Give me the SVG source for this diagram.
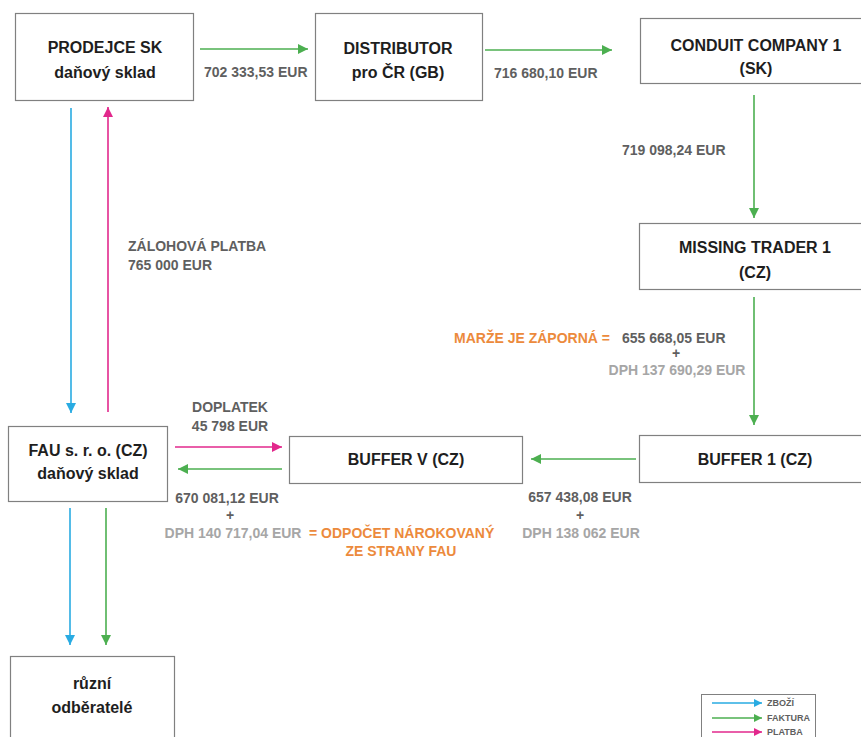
<svg xmlns="http://www.w3.org/2000/svg" width="861" height="737" viewBox="0 0 861 737">
<style>
.box{fill:#fff;stroke:#808080;stroke-width:1.2}
.t{font-family:"Liberation Sans",Arial,sans-serif;font-weight:bold;font-size:16px;fill:#1e1e1e;text-anchor:middle}
.l{font-family:"Liberation Sans",Arial,sans-serif;font-weight:bold;font-size:14px;fill:#5f5f5f}
.lg{font-family:"Liberation Sans",Arial,sans-serif;font-weight:bold;font-size:14px;fill:#a6a6a6}
.o{font-family:"Liberation Sans",Arial,sans-serif;font-weight:bold;font-size:14px;fill:#ec8a3c}
.c{text-anchor:middle}
.g{stroke:#4caf50;stroke-width:1.6;fill:none;marker-end:url(#mg)}
.b{stroke:#29abe2;stroke-width:1.6;fill:none;marker-end:url(#mb)}
.m{stroke:#e2288c;stroke-width:1.6;fill:none;marker-end:url(#mm)}
.leg{font-family:"Liberation Sans",Arial,sans-serif;font-weight:bold;font-size:9px;fill:#5f5f5f}
</style>
<defs>
<marker id="mg" viewBox="0 0 10 10" refX="10" refY="5" markerWidth="6.5" markerHeight="6.5" orient="auto" markerUnits="strokeWidth"><path d="M0,0 L10,5 L0,10 z" fill="#4caf50"/></marker>
<marker id="mb" viewBox="0 0 10 10" refX="10" refY="5" markerWidth="6.5" markerHeight="6.5" orient="auto" markerUnits="strokeWidth"><path d="M0,0 L10,5 L0,10 z" fill="#29abe2"/></marker>
<marker id="mm" viewBox="0 0 10 10" refX="10" refY="5" markerWidth="6.5" markerHeight="6.5" orient="auto" markerUnits="strokeWidth"><path d="M0,0 L10,5 L0,10 z" fill="#e2288c"/></marker>
</defs>
<rect width="861" height="737" fill="#fff"/>

<g id="prodejce">
<rect class="box" x="15.5" y="13.5" width="178" height="87"/>
<text class="t" x="105" y="53">PRODEJCE SK</text>
<text class="t" x="105" y="78">daňový sklad</text>
</g>
<g id="distributor">
<rect class="box" x="315.5" y="13.5" width="167" height="87"/>
<text class="t" x="398" y="54">DISTRIBUTOR</text>
<text class="t" x="398" y="78">pro ČR (GB)</text>
</g>
<g id="conduit">
<rect class="box" x="640.5" y="18.5" width="230" height="65"/>
<text class="t" x="756" y="51">CONDUIT COMPANY 1</text>
<text class="t" x="756" y="74">(SK)</text>
</g>
<g id="missing">
<rect class="box" x="639.5" y="223.5" width="230" height="66"/>
<text class="t" x="755" y="253">MISSING TRADER 1</text>
<text class="t" x="755" y="278">(CZ)</text>
</g>
<g id="buffer1">
<rect class="box" x="639.5" y="435.5" width="230" height="47"/>
<text class="t" x="755" y="465">BUFFER 1 (CZ)</text>
</g>
<g id="bufferv">
<rect class="box" x="289.5" y="436.5" width="233" height="47"/>
<text class="t" x="406" y="465">BUFFER V (CZ)</text>
</g>
<g id="fau">
<rect class="box" x="8.5" y="426.5" width="159" height="75"/>
<text class="t" x="88" y="456">FAU s. r. o. (CZ)</text>
<text class="t" x="88" y="479">daňový sklad</text>
</g>
<g id="odberatele">
<rect class="box" x="10.5" y="656.5" width="164" height="100"/>
<text class="t" x="92" y="689">různí</text>
<text class="t" x="92" y="713">odběratelé</text>
</g>

<g id="connectors">
<line class="g" x1="200" y1="49" x2="308" y2="49"/>
<line class="g" x1="485" y1="50" x2="612" y2="50"/>
<line class="g" x1="754" y1="95" x2="754" y2="218"/>
<line class="g" x1="754" y1="297" x2="754" y2="425"/>
<line class="g" x1="636" y1="459" x2="531" y2="459"/>
<line class="m" x1="175" y1="447" x2="282" y2="447"/>
<line class="g" x1="282" y1="469" x2="178" y2="469"/>
<line class="b" x1="71" y1="108" x2="71" y2="413"/>
<line class="m" x1="108" y1="412" x2="108" y2="107"/>
<line class="b" x1="70" y1="508" x2="70" y2="645"/>
<line class="g" x1="106" y1="508" x2="106" y2="645"/>
</g>

<g id="labels">
<text class="l" x="204" y="77">702 333,53 EUR</text>
<text class="l" x="494" y="78">716 680,10 EUR</text>
<text class="l" x="622" y="155">719 098,24 EUR</text>
<text class="l" x="128" y="251">ZÁLOHOVÁ PLATBA</text>
<text class="l" x="128" y="270">765 000 EUR</text>
<text class="o" x="454" y="343">MARŽE JE ZÁPORNÁ =</text>
<text class="l" x="622" y="343">655 668,05 EUR</text>
<text class="l c" x="676" y="358">+</text>
<text class="lg c" x="677" y="375">DPH 137 690,29 EUR</text>
<text class="l c" x="230" y="412">DOPLATEK</text>
<text class="l c" x="230" y="431">45 798 EUR</text>
<text class="l c" x="227" y="503">670 081,12 EUR</text>
<text class="l c" x="230" y="520">+</text>
<text class="lg c" x="233" y="538">DPH 140 717,04 EUR</text>
<text class="o" x="309" y="538">= ODPOČET NÁROKOVANÝ</text>
<text class="o c" x="401" y="556">ZE STRANY FAU</text>
<text class="l c" x="580" y="502">657 438,08 EUR</text>
<text class="l c" x="580" y="520">+</text>
<text class="lg c" x="581" y="538">DPH 138 062 EUR</text>
</g>

<g id="legend">
<rect x="701.5" y="694.5" width="114" height="60" fill="#fff" stroke="#808080" stroke-width="1"/>
<line class="b" x1="712" y1="703" x2="762" y2="703" style="stroke-width:1.3"/>
<line class="g" x1="712" y1="718" x2="762" y2="718" style="stroke-width:1.3"/>
<line class="m" x1="712" y1="732" x2="762" y2="732" style="stroke-width:1.3"/>
<text class="leg" x="767" y="706">ZBOŽÍ</text>
<text class="leg" x="767" y="721">FAKTURA</text>
<text class="leg" x="767" y="735">PLATBA</text>
</g>
</svg>
